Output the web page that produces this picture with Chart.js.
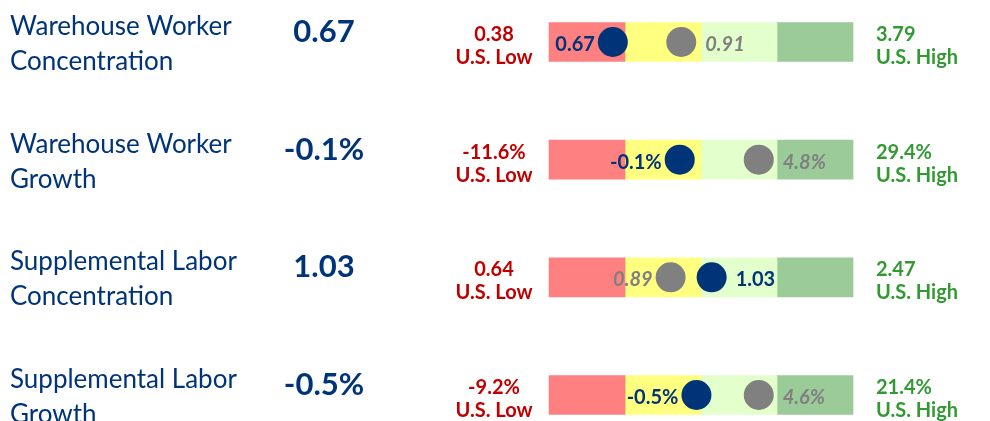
<!DOCTYPE html>
<html>
<head>
<meta charset="utf-8">
<script src="https://cdn.jsdelivr.net/npm/chart.js@4"></script>
<style>
  html, body { margin: 0; padding: 0; background: #fff; }
  #wrap { width: 990px; height: 421px; position: relative; }
</style>
</head>
<body>
<div id="wrap"><canvas id="myChart"></canvas></div>
<script>
// rows of the scorecard
const metrics = [
    ['Warehouse Worker', 'Concentration'],
    ['Warehouse Worker', 'Growth'],
    ['Supplemental Labor', 'Concentration'],
    ['Supplemental Labor', 'Growth']
];
const rowKeys = ['wwc', 'wwg', 'slc', 'slg'];
const localValues = ['0.67', '-0.1%', '1.03', '-0.5%'];
const avgValues = ['0.91', '4.8%', '0.89', '4.6%'];
const usLow = ['0.38', '-11.6%', '0.64', '-9.2%'];
const usHigh = ['3.79', '29.4%', '2.47', '21.4%'];
// position on the U.S. range (percentile scale 0-100)
const localPos = [21, 43, 53.5, 48.5];
const avgPos = [43.5, 69, 40, 69];
const quartiles = [0, 25, 50, 75, 100];
const bandColors = ['#ff8080', '#ffff80', '#e2ffcc', '#9bcb99'];

const NAVY = '#003478';
const GREY = '#808080';
const RED = '#c00000';
const GREEN = '#339933';
const FONT = 'Lato, "Open Sans", sans-serif';

const bandSets = bandColors.map((c, q) => ({
    type: 'bar',
    label: 'Q' + (q + 1),
    data: rowKeys.map(() => [quartiles[q], quartiles[q + 1]]),
    backgroundColor: c,
    borderWidth: 0,
    barThickness: 39,
    grouped: false,
    clip: false,
    order: 2
}));

const textPlugin = {
    id: 'scoreText',
    afterDatasetsDraw(chart) {
        const ctx = chart.ctx;
        const xs = chart.scales.x;
        const ys = chart.scales.y;
        ctx.save();
        ctx.textBaseline = 'alphabetic';
        rowKeys.forEach((k, i) => {
            const y = ys.getPixelForValue(i);

            // metric name
            ctx.fillStyle = NAVY;
            ctx.textAlign = 'left';
            ctx.font = '26px ' + FONT;
            ctx.fillText(metrics[i][0], 10, y - 7);
            ctx.fillText(metrics[i][1], 10, y + 28);

            // metric value
            ctx.textAlign = 'center';
            ctx.font = 'bold 31px ' + FONT;
            ctx.fillText(localValues[i], 324, y);

            // U.S. low
            ctx.fillStyle = RED;
            ctx.font = 'bold 20px ' + FONT;
            ctx.fillText(usLow[i], 494, y - 1);
            ctx.fillText('U.S. Low', 494, y + 22);

            // U.S. high
            ctx.fillStyle = GREEN;
            ctx.textAlign = 'left';
            ctx.fillText(usHigh[i], 876, y - 1);
            ctx.fillText('U.S. High', 876, y + 22);

            // point labels: lower dot labelled on the left, higher on the right
            const lx = xs.getPixelForValue(localPos[i]);
            const ax = xs.getPixelForValue(avgPos[i]);
            const localLeft = localPos[i] <= avgPos[i];
            ctx.font = 'bold 20px ' + FONT;
            ctx.fillStyle = NAVY;
            ctx.textAlign = localLeft ? 'right' : 'left';
            ctx.fillText(localValues[i], localLeft ? lx - 18 : lx + 24, y + 9);
            ctx.font = 'italic bold 20px ' + FONT;
            ctx.fillStyle = GREY;
            ctx.textAlign = localLeft ? 'left' : 'right';
            ctx.fillText(avgValues[i], localLeft ? ax + 24 : ax - 18, y + 9);
        });
        ctx.restore();
    }
};

const ctx = document.getElementById('myChart').getContext('2d');
const myChart = new Chart(ctx, {
    type: 'bar',
    data: {
        labels: rowKeys,
        datasets: [
            ...bandSets,
            {
                type: 'scatter',
                label: 'U.S. Average',
                data: rowKeys.map((k, i) => ({ x: avgPos[i], y: k })),
                backgroundColor: GREY,
                borderWidth: 0,
                pointRadius: 15,
                clip: false,
                order: 1
            },
            {
                type: 'scatter',
                label: 'Local',
                data: rowKeys.map((k, i) => ({ x: localPos[i], y: k })),
                backgroundColor: NAVY,
                borderWidth: 0,
                pointRadius: 15,
                clip: false,
                order: 0
            }
        ]
    },
    options: {
        indexAxis: 'y',
        responsive: true,
        maintainAspectRatio: false,
        animation: false,
        layout: {
            padding: { left: 549, right: 137, top: 42, bottom: 26 }
        },
        scales: {
            x: { type: 'linear', min: 0, max: 100, display: false },
            y: { type: 'category', offset: false, display: false }
        },
        plugins: {
            legend: { display: false },
            tooltip: { enabled: false }
        }
    },
    plugins: [textPlugin]
});
</script>
</body>
</html>
